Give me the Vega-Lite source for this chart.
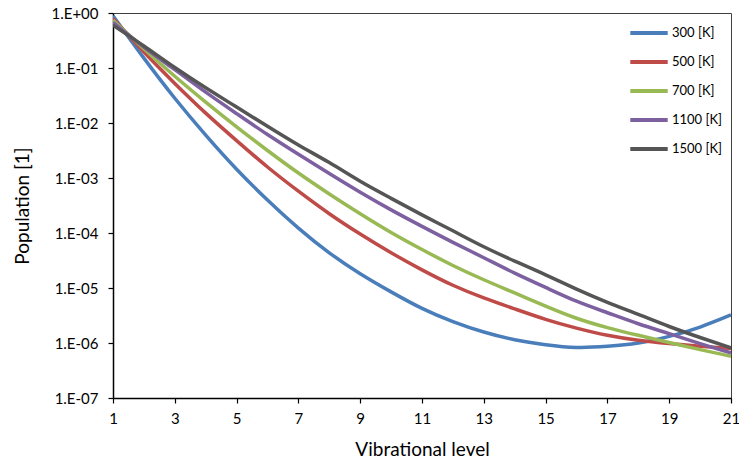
{
  "$schema": "https://vega.github.io/schema/vega-lite/v6.json",
  "autosize": "none",
  "width": 618,
  "height": 385,
  "padding": {"left": 113, "top": 13, "right": 8, "bottom": 63},
  "background": "white",
  "config": {
    "font": "Lato",
    "view": {"stroke": "#404040", "strokeWidth": 1}
  },
  "datasets": {
    "pop": [
      {"level": 1, "T": "300 [K]", "p": 0.891},
      {"level": 2, "T": "300 [K]", "p": 0.151},
      {"level": 3, "T": "300 [K]", "p": 2.818e-2},
      {"level": 4, "T": "300 [K]", "p": 6.026e-3},
      {"level": 5, "T": "300 [K]", "p": 1.445e-3},
      {"level": 6, "T": "300 [K]", "p": 3.981e-4},
      {"level": 7, "T": "300 [K]", "p": 1.230e-4},
      {"level": 8, "T": "300 [K]", "p": 4.365e-5},
      {"level": 9, "T": "300 [K]", "p": 1.820e-5},
      {"level": 10, "T": "300 [K]", "p": 8.511e-6},
      {"level": 11, "T": "300 [K]", "p": 4.266e-6},
      {"level": 12, "T": "300 [K]", "p": 2.455e-6},
      {"level": 13, "T": "300 [K]", "p": 1.585e-6},
      {"level": 14, "T": "300 [K]", "p": 1.148e-6},
      {"level": 15, "T": "300 [K]", "p": 9.333e-7},
      {"level": 16, "T": "300 [K]", "p": 8.318e-7},
      {"level": 17, "T": "300 [K]", "p": 8.710e-7},
      {"level": 18, "T": "300 [K]", "p": 1.0e-6},
      {"level": 19, "T": "300 [K]", "p": 1.318e-6},
      {"level": 20, "T": "300 [K]", "p": 1.950e-6},
      {"level": 21, "T": "300 [K]", "p": 3.236e-6},

      {"level": 1, "T": "500 [K]", "p": 0.794},
      {"level": 2, "T": "500 [K]", "p": 0.195},
      {"level": 3, "T": "500 [K]", "p": 5.248e-2},
      {"level": 4, "T": "500 [K]", "p": 1.514e-2},
      {"level": 5, "T": "500 [K]", "p": 4.786e-3},
      {"level": 6, "T": "500 [K]", "p": 1.585e-3},
      {"level": 7, "T": "500 [K]", "p": 5.754e-4},
      {"level": 8, "T": "500 [K]", "p": 2.239e-4},
      {"level": 9, "T": "500 [K]", "p": 9.550e-5},
      {"level": 10, "T": "500 [K]", "p": 4.365e-5},
      {"level": 11, "T": "500 [K]", "p": 2.138e-5},
      {"level": 12, "T": "500 [K]", "p": 1.122e-5},
      {"level": 13, "T": "500 [K]", "p": 6.607e-6},
      {"level": 14, "T": "500 [K]", "p": 4.169e-6},
      {"level": 15, "T": "500 [K]", "p": 2.692e-6},
      {"level": 16, "T": "500 [K]", "p": 1.862e-6},
      {"level": 17, "T": "500 [K]", "p": 1.380e-6},
      {"level": 18, "T": "500 [K]", "p": 1.122e-6},
      {"level": 19, "T": "500 [K]", "p": 9.772e-7},
      {"level": 20, "T": "500 [K]", "p": 8.710e-7},
      {"level": 21, "T": "500 [K]", "p": 7.943e-7},

      {"level": 1, "T": "700 [K]", "p": 0.741},
      {"level": 2, "T": "700 [K]", "p": 0.224},
      {"level": 3, "T": "700 [K]", "p": 7.079e-2},
      {"level": 4, "T": "700 [K]", "p": 2.399e-2},
      {"level": 5, "T": "700 [K]", "p": 8.511e-3},
      {"level": 6, "T": "700 [K]", "p": 3.162e-3},
      {"level": 7, "T": "700 [K]", "p": 1.230e-3},
      {"level": 8, "T": "700 [K]", "p": 5.129e-4},
      {"level": 9, "T": "700 [K]", "p": 2.239e-4},
      {"level": 10, "T": "700 [K]", "p": 1.023e-4},
      {"level": 11, "T": "700 [K]", "p": 5.012e-5},
      {"level": 12, "T": "700 [K]", "p": 2.570e-5},
      {"level": 13, "T": "700 [K]", "p": 1.413e-5},
      {"level": 14, "T": "700 [K]", "p": 8.128e-6},
      {"level": 15, "T": "700 [K]", "p": 4.677e-6},
      {"level": 16, "T": "700 [K]", "p": 2.818e-6},
      {"level": 17, "T": "700 [K]", "p": 1.905e-6},
      {"level": 18, "T": "700 [K]", "p": 1.380e-6},
      {"level": 19, "T": "700 [K]", "p": 1.023e-6},
      {"level": 20, "T": "700 [K]", "p": 7.586e-7},
      {"level": 21, "T": "700 [K]", "p": 5.754e-7},

      {"level": 1, "T": "1100 [K]", "p": 0.676},
      {"level": 2, "T": "1100 [K]", "p": 0.240},
      {"level": 3, "T": "1100 [K]", "p": 9.333e-2},
      {"level": 4, "T": "1100 [K]", "p": 3.631e-2},
      {"level": 5, "T": "1100 [K]", "p": 1.479e-2},
      {"level": 6, "T": "1100 [K]", "p": 6.166e-3},
      {"level": 7, "T": "1100 [K]", "p": 2.692e-3},
      {"level": 8, "T": "1100 [K]", "p": 1.202e-3},
      {"level": 9, "T": "1100 [K]", "p": 5.495e-4},
      {"level": 10, "T": "1100 [K]", "p": 2.630e-4},
      {"level": 11, "T": "1100 [K]", "p": 1.318e-4},
      {"level": 12, "T": "1100 [K]", "p": 6.761e-5},
      {"level": 13, "T": "1100 [K]", "p": 3.548e-5},
      {"level": 14, "T": "1100 [K]", "p": 1.862e-5},
      {"level": 15, "T": "1100 [K]", "p": 1.023e-5},
      {"level": 16, "T": "1100 [K]", "p": 5.754e-6},
      {"level": 17, "T": "1100 [K]", "p": 3.548e-6},
      {"level": 18, "T": "1100 [K]", "p": 2.239e-6},
      {"level": 19, "T": "1100 [K]", "p": 1.479e-6},
      {"level": 20, "T": "1100 [K]", "p": 9.772e-7},
      {"level": 21, "T": "1100 [K]", "p": 6.607e-7},

      {"level": 1, "T": "1500 [K]", "p": 0.603},
      {"level": 2, "T": "1500 [K]", "p": 0.251},
      {"level": 3, "T": "1500 [K]", "p": 0.102},
      {"level": 4, "T": "1500 [K]", "p": 4.365e-2},
      {"level": 5, "T": "1500 [K]", "p": 1.950e-2},
      {"level": 6, "T": "1500 [K]", "p": 8.710e-3},
      {"level": 7, "T": "1500 [K]", "p": 3.981e-3},
      {"level": 8, "T": "1500 [K]", "p": 1.905e-3},
      {"level": 9, "T": "1500 [K]", "p": 8.710e-4},
      {"level": 10, "T": "1500 [K]", "p": 4.266e-4},
      {"level": 11, "T": "1500 [K]", "p": 2.138e-4},
      {"level": 12, "T": "1500 [K]", "p": 1.096e-4},
      {"level": 13, "T": "1500 [K]", "p": 5.623e-5},
      {"level": 14, "T": "1500 [K]", "p": 3.090e-5},
      {"level": 15, "T": "1500 [K]", "p": 1.738e-5},
      {"level": 16, "T": "1500 [K]", "p": 9.550e-6},
      {"level": 17, "T": "1500 [K]", "p": 5.495e-6},
      {"level": 18, "T": "1500 [K]", "p": 3.311e-6},
      {"level": 19, "T": "1500 [K]", "p": 1.995e-6},
      {"level": 20, "T": "1500 [K]", "p": 1.259e-6},
      {"level": 21, "T": "1500 [K]", "p": 8.128e-7}
    ]
  },
  "data": {"name": "pop"},
  "mark": {"type": "line", "strokeWidth": 3.5, "interpolate": "natural", "clip": true},
  "encoding": {
    "x": {
      "field": "level",
      "type": "quantitative",
      "scale": {"domain": [1, 21], "nice": false, "zero": false},
      "axis": {
        "title": "Vibrational level",
        "values": [1, 3, 5, 7, 9, 11, 13, 15, 17, 19, 21],
        "grid": false,
        "domainColor": "#000000",
        "domainWidth": 1.5,
        "tickColor": "#000000",
        "tickSize": 5,
        "tickWidth": 1.2,
        "labelFontSize": 15,
        "labelColor": "#000000",
        "labelPadding": 8,
        "labelFlush": false,
        "titleFontSize": 19,
        "titleFontWeight": "normal",
        "titleColor": "#000000",
        "titlePadding": 14
      }
    },
    "y": {
      "field": "p",
      "type": "quantitative",
      "scale": {"type": "log", "domain": [1e-7, 1], "nice": false},
      "axis": {
        "title": "Population [1]",
        "values": [1, 0.1, 0.01, 0.001, 0.0001, 0.00001, 0.000001, 0.0000001],
        "labelExpr": "datum.value >= 0.5 ? '1.E+00' : '1.E-0' + round(-log(datum.value) / LN10)",
        "grid": false,
        "domainColor": "#000000",
        "domainWidth": 1.5,
        "tickColor": "#000000",
        "tickSize": 5,
        "tickWidth": 1.2,
        "labelFontSize": 15,
        "labelColor": "#000000",
        "labelPadding": 10,
        "labelFlush": false,
        "titleFontSize": 19,
        "titleFontWeight": "normal",
        "titleColor": "#000000",
        "titlePadding": 18
      }
    },
    "color": {
      "field": "T",
      "type": "nominal",
      "sort": ["300 [K]", "500 [K]", "700 [K]", "1100 [K]", "1500 [K]"],
      "scale": {
        "domain": ["300 [K]", "500 [K]", "700 [K]", "1100 [K]", "1500 [K]"],
        "range": ["#4a7ebb", "#be4b48", "#98b954", "#7d60a0", "#555555"]
      },
      "legend": {
        "title": null,
        "orient": "none",
        "legendX": 515,
        "legendY": -1,
        "symbolType": "stroke",
        "symbolSize": 1400,
        "symbolStrokeWidth": 4,
        "labelFontSize": 13,
        "labelColor": "#000000",
        "labelOffset": 2,
        "rowPadding": -1
      }
    }
  }
}
